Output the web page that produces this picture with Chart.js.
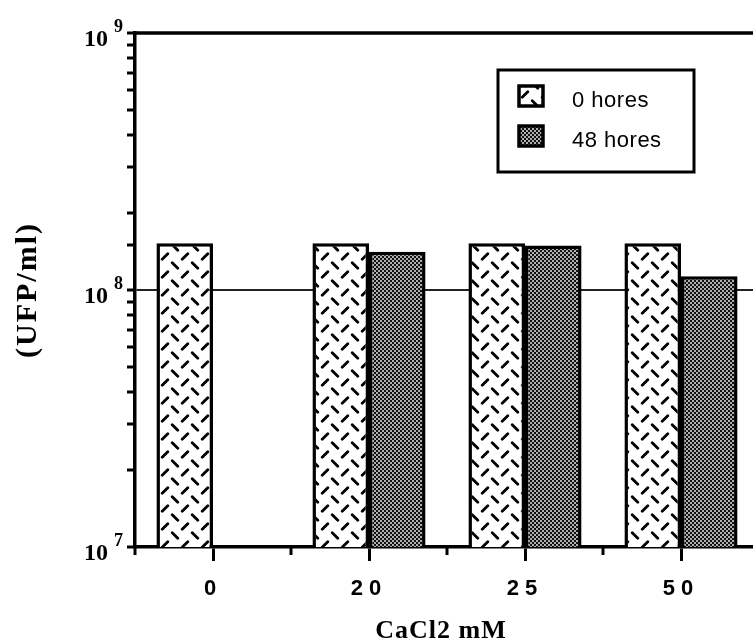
<!DOCTYPE html>
<html lang="ca">
<head>
  <meta charset="UTF-8">
  <title>UFP/ml - CaCl2</title>
  <script src="https://cdn.jsdelivr.net/npm/chart.js"></script>
  <style>
    html, body { margin: 0; padding: 0; background: #fff; overflow: hidden; }
    #grafic { display: block; }
  </style>
</head>
<body>
  <canvas id="grafic" width="765" height="641"></canvas>

  <script>
    // concentració de CaCl2 (mM) i recomptes (UFP/ml)
    const concentracions = ['0', '20', '25', '50'];
    const series = ['0 hores', '48 hores'];
    const ufp0h = [1.52e8, 1.52e8, 1.52e8, 1.52e8];
    const ufp48h = [null, 1.41e8, 1.49e8, 1.13e8];
    const decades = [1e7, 1e8, 1e9];
    const titolX = 'CaCl2 mM';
    const titolY = '(UFP/ml)';

    // trama blanca amb traços diagonals
    function tramaTracos() {
      const c = document.createElement('canvas');
      c.width = 20; c.height = 18;
      const g = c.getContext('2d');
      g.fillStyle = '#fff';
      g.fillRect(0, 0, 20, 18);
      g.strokeStyle = '#000';
      g.lineWidth = 2.8;
      g.lineCap = 'round';
      g.beginPath();
      g.moveTo(2.2, 7.3); g.lineTo(7.8, 1.7);
      g.moveTo(12.2, 10.7); g.lineTo(17.8, 16.3);
      g.stroke();
      return g.createPattern(c, 'repeat');
    }

    // trama fosca de punts
    function tramaPunts() {
      const c = document.createElement('canvas');
      c.width = 4; c.height = 4;
      const g = c.getContext('2d');
      g.fillStyle = '#111';
      g.fillRect(0, 0, 4, 4);
      g.fillStyle = '#b0b0b0';
      g.fillRect(0, 0, 2, 2);
      g.fillRect(2, 2, 2, 2);
      return g.createPattern(c, 'repeat');
    }

    const marc = {
      id: 'marc',
      beforeDraw(chart) {
        chart.ctx.letterSpacing = '6px';
      },
      afterDraw(chart) {
        const { ctx, chartArea: a, scales: { x, y } } = chart;
        ctx.save();
        ctx.letterSpacing = '0px';
        ctx.strokeStyle = '#000';
        ctx.fillStyle = '#000';
        ctx.lineWidth = 3.5;

        // línia superior del marc
        ctx.beginPath();
        ctx.moveTo(a.left - 1.75, a.top);
        ctx.lineTo(a.right, a.top);
        ctx.stroke();

        // marques curtes entre categories
        const pas = x.width / concentracions.length;
        ctx.lineWidth = 3;
        ctx.beginPath();
        for (let i = 0; i <= concentracions.length; i++) {
          const px = a.left + i * pas;
          ctx.moveTo(px, a.bottom);
          ctx.lineTo(px, a.bottom + 8);
        }
        ctx.stroke();

        // etiquetes 10^n
        ctx.textBaseline = 'alphabetic';
        decades.forEach(v => {
          const py = y.getPixelForValue(v);
          ctx.font = 'bold 24px "Liberation Serif"';
          ctx.textAlign = 'right';
          ctx.fillText('10', 108, py + 13);
          ctx.font = 'bold 18px "Liberation Serif"';
          ctx.textAlign = 'left';
          ctx.fillText(String(Math.round(Math.log10(v))), 114, py - 1);
        });

        // títol de l'eix Y
        ctx.save();
        ctx.translate(28, (a.top + a.bottom) / 2);
        ctx.rotate(-Math.PI / 2);
        ctx.letterSpacing = '2px';
        ctx.font = 'bold 30px "Liberation Serif"';
        ctx.textAlign = 'center';
        ctx.textBaseline = 'middle';
        ctx.fillText(titolY, 0, 0);
        ctx.restore();

        // títol de l'eix X
        ctx.letterSpacing = '1px';
        ctx.font = 'bold 26px "Liberation Serif"';
        ctx.textAlign = 'center';
        ctx.fillText(titolX, 441, 638);

        // llegenda
        ctx.lineWidth = 3;
        ctx.strokeRect(498, 70, 196, 102);
        ctx.font = '22px "Liberation Sans"';
        ctx.letterSpacing = '0.5px';
        ctx.textAlign = 'left';
        chart.data.datasets.forEach((ds, i) => {
          const top = 86 + i * 40;
          ctx.fillStyle = ds.backgroundColor;
          ctx.fillRect(519, top, 24, 20);
          ctx.lineWidth = 3.5;
          ctx.strokeRect(519, top, 24, 20);
          ctx.fillStyle = '#000';
          ctx.fillText(ds.label, 572, top + 21);
        });
        ctx.restore();
      }
    };

    const ctx = document.getElementById('grafic').getContext('2d');
    new Chart(ctx, {
      type: 'bar',
      data: {
        labels: concentracions,
        datasets: [
          { label: series[0], data: ufp0h, backgroundColor: tramaTracos(), borderColor: '#000', borderWidth: 3.5 },
          { label: series[1], data: ufp48h, backgroundColor: tramaPunts(), borderColor: '#000', borderWidth: 3.5 }
        ]
      },
      options: {
        responsive: false,
        animation: false,
        layout: { padding: { left: 0, right: 6, top: 33, bottom: 0 } },
        datasets: { bar: { categoryPercentage: 0.725, barPercentage: 1 } },
        plugins: { legend: { display: false }, tooltip: { enabled: false } },
        scales: {
          x: {
            grid: { drawOnChartArea: false, offset: false, tickLength: 14, tickWidth: 3, tickColor: '#000' },
            border: { color: '#000', width: 3.5 },
            ticks: {
              color: '#000',
              font: { family: 'Liberation Sans', size: 22, weight: 'bold' },
              padding: 15,
              maxRotation: 0
            },
            afterFit(s) { s.height = 94; }
          },
          y: {
            type: 'logarithmic',
            min: 1e7,
            max: 1e9,
            grid: {
              color: c => (c.tick && c.tick.value === 1e8) ? '#222' : 'rgba(0,0,0,0)',
              lineWidth: 2,
              tickLength: 8,
              tickWidth: 3,
              tickColor: '#000'
            },
            border: { color: '#000', width: 3.5 },
            ticks: { display: false },
            afterFit(s) { s.width = 135; }
          }
        }
      },
      plugins: [marc]
    });
  </script>
</body>
</html>
